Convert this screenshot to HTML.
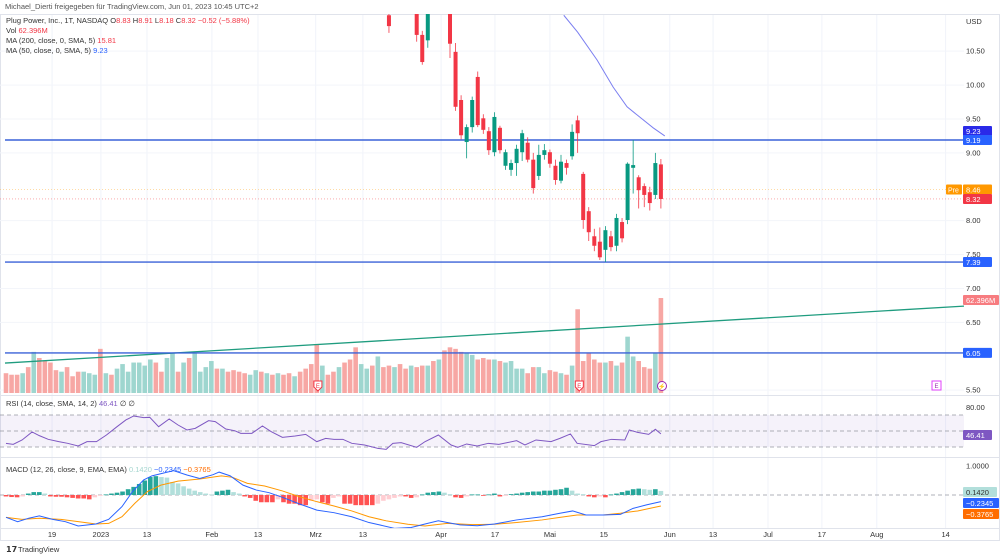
<!DOCTYPE html>
<html><head><meta charset="utf-8"><style>
body{margin:0;background:#fff;width:1000px;height:560px;overflow:hidden;font-family:"Liberation Sans",sans-serif}
svg{display:block}
text{font-family:"Liberation Sans",sans-serif}
</style></head><body>
<svg id="chart" width="1000" height="560" viewBox="0 0 1000 560">
<defs>
<clipPath id="mainClip"><rect x="0" y="14" width="964" height="381"/></clipPath>
<clipPath id="macdClip"><rect x="0" y="458" width="964" height="70"/></clipPath>
</defs>
<text x="5" y="9" font-size="7.5" fill="#555">Michael_Dierti freigegeben für TradingView.com, Jun 01, 2023 10:45 UTC+2</text>
<rect x="0.5" y="14.5" width="999" height="526" fill="none" stroke="#e0e3eb"/>
<g id="grid"></g>
<line x1="0" y1="395.5" x2="1000" y2="395.5" stroke="#e0e3eb"/>
<line x1="0" y1="457.5" x2="1000" y2="457.5" stroke="#e0e3eb"/>
<line x1="0" y1="528.5" x2="1000" y2="528.5" stroke="#e0e3eb"/>
<g id="volume" clip-path="url(#mainClip)"></g>
<g id="overlays" clip-path="url(#mainClip)"></g>
<g id="candles" clip-path="url(#mainClip)"></g>
<g id="rsi"></g>
<g id="macd" clip-path="url(#macdClip)"></g>
<g id="axis"></g>
<g font-size="7.5">
<text x="6" y="23" fill="#333">Plug Power, Inc., 1T, NASDAQ <tspan fill="#333">O</tspan><tspan fill="#f23645">8.83</tspan> <tspan fill="#333">H</tspan><tspan fill="#f23645">8.91</tspan> <tspan fill="#333">L</tspan><tspan fill="#f23645">8.18</tspan> <tspan fill="#333">C</tspan><tspan fill="#f23645">8.32 −0.52 (−5.88%)</tspan></text>
<text x="6" y="33" fill="#333">Vol <tspan fill="#f23645">62.396M</tspan></text>
<text x="6" y="43" fill="#333">MA (200, close, 0, SMA, 5) <tspan fill="#f23645">15.81</tspan></text>
<text x="6" y="53" fill="#333">MA (50, close, 0, SMA, 5) <tspan fill="#2962ff">9.23</tspan></text>
<text x="6" y="406" fill="#333">RSI (14, close, SMA, 14, 2) <tspan fill="#7e57c2">46.41</tspan> ∅ ∅</text>
<text x="6" y="472" fill="#333">MACD (12, 26, close, 9, EMA, EMA) <tspan fill="#a5d6cf">0.1420</tspan> <tspan fill="#2962ff">−0.2345</tspan> <tspan fill="#ff6d00">−0.3765</tspan></text>
</g>
<g><text x="6" y="552" font-size="8" fill="#333" font-weight="bold">𝟭𝟳</text><text x="18" y="552" font-size="7.5" fill="#333">TradingView</text></g>
</svg>
<script>
// ---- data ----
const candleOpen=[11.03,11.4,11.7,11.5,11.2,11.05,10.74,10.66,11.5,11.3,11.6,11.1,10.49,9.78,9.16,9.38,10.12,9.51,9.32,9.01,9.37,8.81,8.75,8.85,9.01,9.15,8.90,8.66,8.97,9.01,8.81,8.59,8.85,8.95,9.48,8.69,8.14,7.77,7.69,7.57,7.77,7.63,7.98,8.01,8.78,8.64,8.51,8.42,8.38,8.83];
const candleClose=[10.87,11.6,11.5,11.3,11.4,10.74,10.34,11.1,11.3,11.6,11.3,10.61,9.68,9.26,9.38,9.78,9.41,9.34,9.04,9.53,9.04,9.01,8.85,9.06,9.29,8.90,8.48,8.97,9.04,8.84,8.60,8.87,8.78,9.31,9.29,8.01,7.83,7.63,7.46,7.86,7.61,8.04,7.74,8.84,8.82,8.45,8.38,8.26,8.85,8.32];
const candleHigh=[11.1,11.7,11.8,11.6,11.5,11.1,10.80,11.2,11.6,11.7,11.7,11.2,10.62,9.85,9.42,9.83,10.2,9.57,9.38,9.6,9.4,9.05,8.9,9.12,9.34,9.23,9.0,9.12,9.13,9.05,8.9,8.97,8.9,9.42,9.55,8.72,8.2,7.88,7.9,7.92,7.85,8.10,8.04,8.86,9.19,8.67,8.55,8.5,9.0,8.91];
const candleLow=[10.77,11.3,11.4,11.2,11.1,10.64,10.30,10.55,11.2,11.2,11.2,10.40,9.62,9.20,8.92,9.30,9.38,9.28,8.97,8.95,8.99,8.75,8.66,8.66,8.88,8.86,8.40,8.6,8.9,8.78,8.53,8.55,8.68,8.9,9.0,7.88,7.7,7.55,7.42,7.39,7.55,7.55,7.68,7.95,8.4,8.18,8.2,8.15,8.32,8.18];
const volumeM=[13,12,12,13,17,27,23,21,20,15,14,17,11,14,14,13,12,29,13,12,16,19,14,20,20,18,22,20,14,23,26,14,20,23,26,14,17,21,16,16,14,15,14,13,12,15,14,13,12,13,12,13,11,14,16,19,32,18,12,14,17,20,22,30,19,16,18,24,17,18,17,19,16,18,17,18,18,21,22,28,30,29,27,26,25,22,23,22,22,21,20,21,16,16,13,17,17,13,15,14,13,12,18,55,21,26,22,20,20,21,18,20,37,24,21,17,16,26,62.4];
const preVolumeUp=[0,0,0,1,0,1,0,0,0,0,1,0,0,0,1,1,1,0,1,0,1,1,1,1,1,1,1,0,0,1,1,0,1,0,1,1,1,1,0,1,0,0,0,0,1,1,0,1,0,1,0,0,1,0,0,0,0,1,0,0,1,0,0,0,1,1,0,1,0];
const ma50Idx=[31.5,34,37.5,40.4,42.9,44.7,47.6,49.7];
const ma50Val=[11.03,10.78,10.37,9.97,9.68,9.56,9.37,9.25];
const levelPrices=[9.19,7.39,6.05];
const trendStart=5.90, trendEnd=6.74;
const rsiIdx=[0,1.3,2.9,4.7,6,7.6,9.5,11.1,13,14.6,16.3,18.1,20,21.6,23,24.8,25.9,27.5,29.4,31,32.6,34.1,36.5,37.7,39.6,41.2,42.3,44.3,46.2,47.8,49.8,52.1,54,56,57.6,59.1,60.7,62.3,64.6,67,68.5,69.7,71.2,74,75.5,77.9,80.2,81.4,83,84.9,86.9,88.8,92,93.5,95.5,98.2,99.8,101.7,102.9,106,107.2,109.1,111.5,112.3,113.8,115.8,117,118];
const rsiVal=[34.6,33.3,38.8,48.8,44.2,39.6,36.7,34.6,31.3,36.7,36.7,45,55.4,63.8,68.8,66.7,67.1,55.4,65,57.5,51.3,53.3,62.9,61.7,52.5,50.4,47.1,47.1,56.3,49.2,42.1,43.8,45.8,36.7,40.8,39.6,39.6,34.6,32.5,28.3,27.1,34.6,35.4,29.6,36.7,45,32.5,29.6,33.8,31.3,34.6,33.3,37.9,32.5,38.8,36.7,40.8,46.3,34.6,31.7,36.7,39.6,38.8,51.3,48.3,45.8,52.1,46.4];
const macdIdx=[0,2.1,4.1,6,8.4,10.7,13,16.2,18.5,20.9,22.8,24.8,26.3,28.7,30.2,32.6,34.9,37.3,38.4,40.4,42.7,45.1,47.4,49.8,52.9,56,59.1,62.3,65.4,67.3,70,73,75.5,77.9,79.5,81.8,84.9,88,92,96.6,99.8,102.1,104.5,107.6,110.7,113,115.4,118];
const macdVal=[-0.77,-0.92,-0.80,-0.72,-0.84,-0.92,-1.07,-1.0,-0.84,-0.40,0.12,0.52,0.66,0.77,0.84,0.69,0.57,0.70,0.79,0.66,0.34,0.17,0.08,-0.08,-0.31,-0.52,-0.61,-0.75,-0.95,-1.03,-1.15,-1.12,-1.0,-0.89,-0.95,-1.03,-1.06,-1.0,-0.86,-0.75,-0.63,-0.55,-0.69,-0.69,-0.67,-0.46,-0.34,-0.23];
const signalIdx=[0,2.9,6,9.9,13,16.2,18.5,20.9,23.2,25.5,27.9,31,34.9,38.8,40.8,43.5,46.6,49.8,52.9,56,59.1,62.3,65.4,68.5,72.4,75.5,79.5,84.1,88,92,96.6,99.8,102.9,107.6,110.7,113.8,118];
const signalVal=[-0.77,-0.84,-0.80,-0.84,-0.92,-1.0,-0.98,-0.75,-0.29,0.12,0.34,0.48,0.55,0.66,0.61,0.40,0.31,0.14,-0.06,-0.23,-0.38,-0.55,-0.75,-0.89,-1.01,-1.07,-0.98,-1.02,-1.01,-0.95,-0.86,-0.77,-0.69,-0.69,-0.63,-0.55,-0.38];
const histVal=[-0.05,-0.07,-0.08,-0.05,0.05,0.1,0.1,0.05,-0.05,-0.06,-0.06,-0.08,-0.1,-0.12,-0.12,-0.15,-0.08,-0.03,0.02,0.05,0.08,0.12,0.2,0.28,0.38,0.5,0.62,0.65,0.62,0.6,0.45,0.4,0.3,0.22,0.15,0.1,0.05,0.02,0.12,0.15,0.18,0.1,0.05,-0.05,-0.1,-0.2,-0.25,-0.25,-0.25,-0.15,-0.25,-0.3,-0.3,-0.35,-0.35,-0.2,-0.15,-0.25,-0.3,-0.1,-0.05,-0.3,-0.3,-0.35,-0.35,-0.35,-0.35,-0.3,-0.2,-0.15,-0.1,-0.05,-0.05,-0.1,-0.08,0.02,0.08,0.1,0.12,0.08,0.03,-0.08,-0.1,-0.05,0.02,0.02,-0.02,0.02,0.05,-0.05,-0.02,0.03,0.05,0.08,0.1,0.12,0.12,0.15,0.15,0.18,0.2,0.25,0.15,0.05,0.03,-0.05,-0.08,-0.05,-0.08,0.02,0.05,0.1,0.15,0.2,0.22,0.2,0.18,0.2,0.14];
const tickIdx=[8.3,17.1,25.4,37.1,45.4,55.8,64.3,78.4,88.1,98,107.7,119.6,127.4,137.3,147,156.9,169.3];
const tickLabels=["19","2023","13","Feb","13","Mrz","13","Apr","17","Mai","15","Jun","13","Jul","17","Aug","14"];
const priceTicks=[10.5,10.0,9.5,9.0,8.0,7.5,7.0,6.5,5.5];
const priceTickLabels=["10.50","10.00","9.50","9.00","8.00","7.50","7.00","6.50","5.50"];
const CANDLE_OFFSET=69;

// ---- axes ----
const NS="http://www.w3.org/2000/svg";
const X=i=>6+i*5.55;
const PY=p=>140+(9.19-p)*67.8;
const VY=v=>393-v*95/62.4;
const RY=v=>431-(v-50)*0.8;
const MY=v=>495-v*29;
function mk(tag,attrs,parent){const e=document.createElementNS(NS,tag);for(const k in attrs)e.setAttribute(k,attrs[k]);parent.appendChild(e);return e;}
const G=id=>document.getElementById(id);

// grid
tickIdx.forEach((t,i)=>{
  const l=mk('line',{x1:X(t),x2:X(t),y1:15,y2:528,stroke:'#f0f3fa'},G('grid'));
  
  
  const tx=mk('text',{x:X(t),y:537,'font-size':7.5,fill:'#333','text-anchor':'middle'},G('axis'));
  tx.textContent=tickLabels[i];
  
  
});
priceTicks.forEach((p,i)=>{
  const l=mk('line',{x1:0,x2:964,y1:PY(p),y2:PY(p),stroke:'#f3f5fa'},G('grid'));
  
  
  const tx=mk('text',{x:966,y:PY(p)+2.5,'font-size':7.5,fill:'#333'},G('axis'));
  tx.textContent=priceTickLabels[i];
  
  
});
{const u=mk('text',{x:966,y:24,'font-size':7.5,fill:'#333'},G('axis'));u.textContent='USD';

}

// volume
volumeM.forEach((v,i)=>{
  let up;
  if(i<CANDLE_OFFSET) up=preVolumeUp[i]; else {const k=i-CANDLE_OFFSET; up=candleClose[k]>=candleOpen[k]?1:0;}
  const r=mk('rect',{x:X(i)-2.3,y:VY(v),width:4.6,height:393-VY(v),fill:up?'#9ed6cf':'#f7a7a4'},G('volume'));
  
  
});

// overlays: trend line, levels, price lines
{const t=mk('line',{x1:5,x2:964,y1:PY(trendStart),y2:PY(trendEnd),stroke:'#1f9c7f','stroke-width':1.3},G('overlays'));

}
levelPrices.forEach(p=>{
  const l=mk('line',{x1:5,x2:964,y1:PY(p),y2:PY(p),stroke:'#3a62d8','stroke-width':1.4},G('overlays'));
  
  
});
{const a=mk('line',{x1:0,x2:964,y1:PY(8.46),y2:PY(8.46),stroke:'#ffb74d','stroke-width':0.6,'stroke-dasharray':'1,2'},G('overlays'));


const b=mk('line',{x1:0,x2:964,y1:PY(8.32),y2:PY(8.32),stroke:'#f77c80','stroke-width':0.6,'stroke-dasharray':'1,2'},G('overlays'));

}
{const pts=ma50Idx.map((k,i)=>X(k+CANDLE_OFFSET)+','+PY(ma50Val[i])).join(' ');
const m=mk('polyline',{points:pts,fill:'none',stroke:'#7b7ff0','stroke-width':1},G('overlays'));

}

// candles
candleOpen.forEach((o,k)=>{
  const c=candleClose[k],up=c>=o,col=up?'#089981':'#f23645',x=X(k+CANDLE_OFFSET);
  const w=mk('line',{x1:x,x2:x,y1:PY(candleHigh[k]),y2:PY(candleLow[k]),stroke:col,'stroke-width':0.8},G('candles'));
  
  
  const top=PY(Math.max(o,c)),h=Math.max(1,Math.abs(PY(o)-PY(c)));
  const b=mk('rect',{x:x-2,y:top,width:4,height:h,fill:col},G('candles'));
  
  
});

// event markers
[[56.2,'#f23645','E'],[103.3,'#f23645','E']].forEach(m=>{
  const g=mk('g',{},G('axis'));
  
  
  mk('path',{d:`M${X(m[0])-4},381 h8 v6 l-4,4 l-4,-4z`,fill:'#fff',stroke:m[1],'stroke-width':1},g);
  const t=mk('text',{x:X(m[0]),y:388,'font-size':6,fill:m[1],'text-anchor':'middle'},g);t.textContent=m[2];
});
{const g=mk('g',{},G('axis'));


mk('circle',{cx:X(118.2),cy:386,r:4.5,fill:'#fff',stroke:'#9c27b0','stroke-width':1},g);
const t=mk('text',{x:X(118.2),y:388.5,'font-size':6,fill:'#9c27b0','text-anchor':'middle'},g);t.textContent='⚡';
const g2=mk('g',{},G('axis'));


mk('rect',{x:932,y:381,width:9,height:9,fill:'#fff',stroke:'#e040fb','stroke-width':1},g2);
const t2=mk('text',{x:936.5,y:388,'font-size':6,fill:'#9c27b0','text-anchor':'middle'},g2);t2.textContent='E';}

// RSI
{const band=mk('rect',{x:0,y:RY(70),width:964,height:RY(30)-RY(70),fill:'#7e57c2','fill-opacity':0.08},G('rsi'));


[70,50,30].forEach(v=>{const l=mk('line',{x1:0,x2:964,y1:RY(v),y2:RY(v),stroke:'#9598a1','stroke-width':0.7,'stroke-dasharray':'4,3'},G('rsi'));

});
const pts=rsiIdx.map((k,i)=>X(k)+','+RY(rsiVal[i])).join(' ');
const p=mk('polyline',{points:pts,fill:'none',stroke:'#7e57c2','stroke-width':1},G('rsi'));


const t=mk('text',{x:966,y:RY(80)+3,'font-size':7.5,fill:'#333'},G('axis'));t.textContent='80.00';

}

// MACD
{const z=mk('line',{x1:0,x2:964,y1:MY(0),y2:MY(0),stroke:'#9598a1','stroke-width':0.7,'stroke-dasharray':'4,3'},G('macd'));


histVal.forEach((v,i)=>{
  const prev=i>0?histVal[i-1]:v;
  const col=v>=0?(v>=prev?'#26a69a':'#b2dfdb'):(v<=prev?'#ff5252':'#ffcdd2');
  const y=Math.min(MY(v),MY(0)),h=Math.max(0.8,Math.abs(MY(v)-MY(0)));
  const r=mk('rect',{x:X(i)-2.3,y:y,width:4.6,height:h,fill:col},G('macd'));
  
  
});
const s=mk('polyline',{points:signalIdx.map((k,i)=>X(k)+','+MY(signalVal[i])).join(' '),fill:'none',stroke:'#ff9800','stroke-width':1},G('macd'));


const m=mk('polyline',{points:macdIdx.map((k,i)=>X(k)+','+MY(macdVal[i])).join(' '),fill:'none',stroke:'#2962ff','stroke-width':1},G('macd'));


const t=mk('text',{x:966,y:MY(1)+2.5,'font-size':7.5,fill:'#333'},G('axis'));t.textContent='1.0000';

}

// price badges
function badge(y,txt,bg,fg,name,w){
  const g=mk('g',{},G('axis'));
  
  
  mk('rect',{x:963,y:y-5,width:w||29,height:10,fill:bg,rx:1},g);
  const t=mk('text',{x:966,y:y+3,'font-size':7.5,fill:fg},g);t.textContent=txt;
}
badge(131,'9.23','#2a2ae8','#fff','ma50-badge');
badge(PY(9.19),'9.19','#2962ff','#fff','level-badge-919');
badge(PY(8.46),'8.46','#ff9800','#fff','premarket-badge');
badge(PY(8.32),'8.32','#f23645','#fff','last-price-badge');
badge(PY(7.39),'7.39','#2962ff','#fff','level-badge-739');
badge(300,'62.396M','#f77c80','#fff','volume-badge',36);
badge(PY(6.05),'6.05','#2962ff','#fff','level-badge-605');
badge(435,'46.41','#7e57c2','#fff','rsi-badge');
badge(492,'0.1420','#b2dfdb','#333','macd-hist-badge',34);
badge(503,'−0.2345','#2962ff','#fff','macd-badge',36);
badge(514,'−0.3765','#ff6d00','#fff','signal-badge',36);
{const g=mk('g',{},G('axis'));


mk('rect',{x:946,y:PY(8.46)-5,width:16,height:10,fill:'#ff9800',rx:1},g);
const t=mk('text',{x:948,y:PY(8.46)+3,'font-size':7,fill:'#fff'},g);t.textContent='Pre';}
</script>
</body></html>
